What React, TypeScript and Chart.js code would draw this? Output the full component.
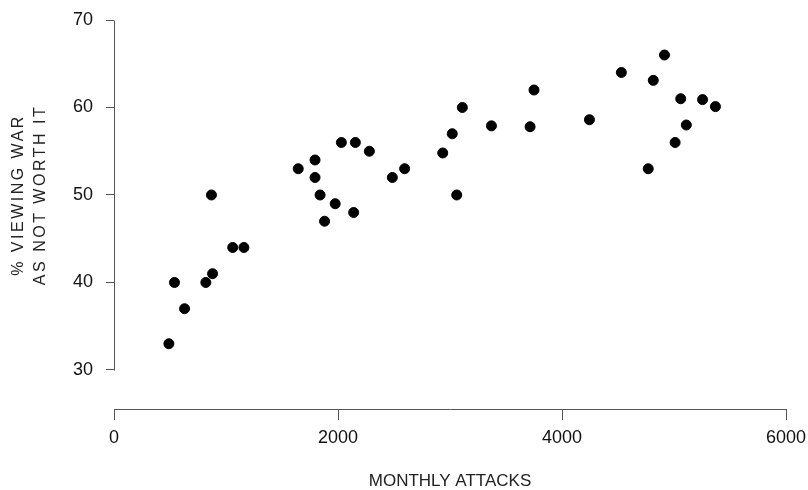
import React, { useEffect, useRef } from "react";
import { Chart, registerables } from "chart.js";

Chart.register(...registerables);

// Monthly attacks (x) and % viewing war as not worth it (y)
const monthlyAttacks = [
  490, 540, 630, 820, 880, 870, 1060, 1160, 1645, 1795, 1795, 1840, 1880, 1975,
  2030, 2140, 2155, 2280, 2485, 2595, 2935, 3020, 3060, 3110, 3370, 3715, 3750,
  4245, 4530, 4770, 4815, 4915, 5010, 5060, 5110, 5255, 5370,
];
const pctNotWorthIt = [
  33, 40, 37, 40, 41, 50, 44, 44, 53, 54, 52, 50, 47, 49,
  56, 48, 56, 55, 52, 53, 54.8, 57, 50, 60, 57.9, 57.8, 62,
  58.6, 64, 53, 63.1, 66, 56, 61, 58, 60.9, 60.1,
];
const xTicks = [0, 2000, 4000, 6000];
const yTicks = [30, 40, 50, 60, 70];
const xTitle = "MONTHLY ATTACKS";
const yTitleLines = ["% VIEWING WAR", "AS NOT WORTH IT"];

const FONT = "'Liberation Sans', Arial, Helvetica, sans-serif";

export default function App() {
  const ref = useRef<HTMLCanvasElement>(null);

  useEffect(() => {
    const canvas = ref.current;
    if (!canvas) return;

    const framePlugin = {
      id: "frame",
      afterDraw(chart: any) {
        const { ctx, chartArea, scales } = chart;
        const ys = scales.y;
        ctx.save();
        // range-frame y axis line
        const x0 = Math.round(chartArea.left) + 0.5;
        ctx.strokeStyle = "#555";
        ctx.lineWidth = 1;
        ctx.beginPath();
        ctx.moveTo(x0, Math.round(ys.getPixelForValue(yTicks[yTicks.length - 1])) + 0.5);
        ctx.lineTo(x0, Math.round(ys.getPixelForValue(yTicks[0])) + 0.5);
        ctx.stroke();

        // x title
        ctx.fillStyle = "#222";
        ctx.font = `17px ${FONT}`;
        ctx.textAlign = "center";
        ctx.textBaseline = "middle";
        ctx.fillText(xTitle, (chartArea.left + chartArea.right) / 2, 481);

        // y title (rotated, letter-spaced)
        ctx.font = `16px ${FONT}`;
        const cy = (ys.getPixelForValue(yTicks[0]) + ys.getPixelForValue(yTicks[yTicks.length - 1])) / 2;
        const xs = [19, 41];
        yTitleLines.forEach((line, i) => {
          ctx.save();
          ctx.translate(xs[i], cy);
          ctx.rotate(-Math.PI / 2);
          (ctx as any).letterSpacing = "2.5px";
          ctx.textAlign = "center";
          ctx.textBaseline = "middle";
          ctx.fillText(line, 0, 0);
          ctx.restore();
        });
        ctx.restore();
      },
    };

    const chart = new Chart(canvas, {
      type: "scatter",
      data: {
        datasets: [
          {
            data: monthlyAttacks.map((x, i) => ({ x, y: pctNotWorthIt[i] })),
            backgroundColor: "#000",
            borderColor: "#000",
            pointRadius: 5,
            pointHoverRadius: 5,
          },
        ],
      },
      options: {
        responsive: false,
        animation: false,
        layout: { padding: { left: 0, right: 22, top: 20, bottom: 0 } },
        plugins: { legend: { display: false }, tooltip: { enabled: false } },
        scales: {
          x: {
            type: "linear",
            min: xTicks[0],
            max: xTicks[xTicks.length - 1],
            afterBuildTicks: (s: any) => {
              s.ticks = xTicks.map((v) => ({ value: v }));
            },
            afterFit: (s: any) => {
              s.height = 81;
              s.paddingLeft = 0;
              s.paddingRight = 0;
            },
            grid: { display: true, drawOnChartArea: false, drawTicks: true, tickLength: 11, color: "#555" },
            border: { display: true, color: "#555" },
            ticks: {
              color: "#111",
              font: { size: 18, family: FONT },
              padding: 7,
              maxRotation: 0,
              callback: (v: any) => String(v),
            },
          },
          y: {
            type: "linear",
            min: 25.54,
            max: yTicks[yTicks.length - 1],
            afterBuildTicks: (s: any) => {
              s.ticks = yTicks.map((v) => ({ value: v }));
            },
            afterFit: (s: any) => {
              s.width = 114;
              s.paddingTop = 0;
              s.paddingBottom = 0;
            },
            grid: { display: true, drawOnChartArea: false, drawTicks: true, tickLength: 8, color: "#555" },
            border: { display: false },
            ticks: {
              color: "#111",
              font: { size: 18, family: FONT },
              padding: 13,
              callback: (v: any) => String(v),
            },
          },
        },
      },
      plugins: [framePlugin],
    });

    return () => chart.destroy();
  }, []);

  return (
    <div style={{ position: "absolute", left: 0, top: 0, width: 808, height: 490, background: "#fff" }}>
      <canvas ref={ref} width={808} height={490} style={{ display: "block" }} />
    </div>
  );
}
